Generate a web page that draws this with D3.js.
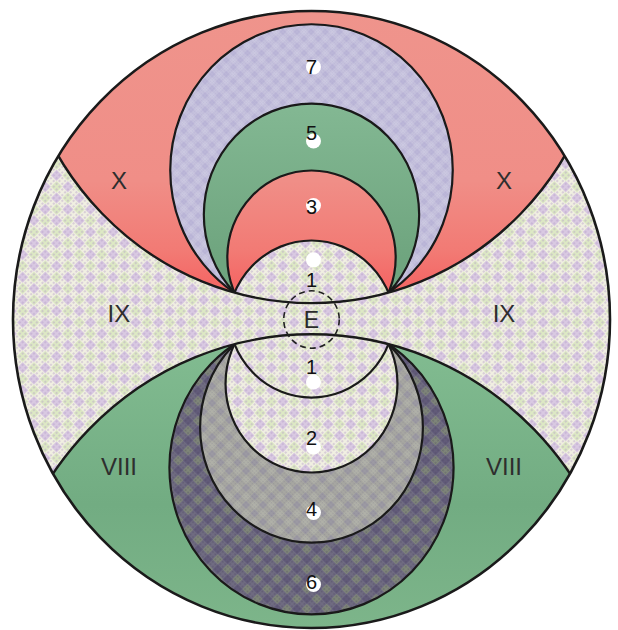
<!DOCTYPE html>
<html><head><meta charset="utf-8">
<script src="https://cdn.jsdelivr.net/npm/d3@7"></script>
<style>html,body{margin:0;padding:0;background:#fff;}svg{display:block;}</style>
</head><body>
<svg id="chart" width="618" height="630"></svg>
<script>
// ---- data (diagram units: outer radius = 10) ----
const outerRadius = 10;
const upperLabels = ["7", "5", "3", "1"];
const upperApex = [9.57, 7.0, 4.83, 2.56];
const lowerLabels = ["6", "4", "2", "1"];
const lowerApex = [9.56, 7.23, 4.96, 2.53];
const zoneLabels = ["X", "IX", "VIII"];
const convergenceX = 2.58;
const bandGap = [0.53, 0.48];        // upper, lower half-gap of IX band at centre
const bandJunction = [5.3, 5.0];     // height where band edge meets outer rim
const earthRadius = 0.93;
const earthLabel = "E";

// ---- scales ----
const svg = d3.select("#chart");
const x = d3.scaleLinear().domain([-10, 10]).range([13, 610]);
const y = d3.scaleLinear().domain([-10, 10]).range([628, 11]);
const rx = r => Math.abs(x(r) - x(0)), ry = r => Math.abs(y(0) - y(r));

const defs = svg.append("defs");
function checkPattern(id, base, c1, c2, size, dot, dotOp) {
  const p = defs.append("pattern").attr("id", id).attr("patternUnits", "userSpaceOnUse")
    .attr("width", size).attr("height", size).attr("patternTransform", "rotate(45)");
  p.append("rect").attr("width", size).attr("height", size).attr("fill", base);
  p.append("rect").attr("width", size / 2).attr("height", size / 2).attr("fill", c1);
  p.append("rect").attr("x", size / 2).attr("y", size / 2).attr("width", size / 2).attr("height", size / 2).attr("fill", c2);
  if (dot) {
    for (let i = 0; i < 4; i++) for (let j = 0; j < 4; j++)
      p.append("circle").attr("cx", i * size / 4 + size / 8).attr("cy", j * size / 4 + size / 8)
        .attr("r", size / 14).attr("fill", dot).attr("opacity", dotOp || 0.35);
  }
}
checkPattern("pIX", "#f1f0e2", "#d9c9e2", "#dde9c4", 16, "#b49dc6", 0.45);
checkPattern("pDark", "#706c82", "#7f8679", "#625b7a", 14, "#4a4560", 0.4);
checkPattern("pGrey", "#a7a7a1", "#9c9aa3", "#b0b1a8", 12, "#85838f", 0.4);
checkPattern("pLav", "#c6c2dd", "#bcb7d8", "#ccc9e1", 10, "#a59fcb", 0.35);
const g1 = defs.append("linearGradient").attr("id", "gRed").attr("gradientUnits", "userSpaceOnUse")
  .attr("x1", 0).attr("y1", y(10)).attr("x2", 0).attr("y2", y(0));
[[0, "#ef948c"], [0.55, "#f08e87"], [0.78, "#f27a74"], [0.88, "#f46866"], [1, "#f07a74"]]
  .forEach(s => g1.append("stop").attr("offset", s[0]).attr("stop-color", s[1]));
const g2 = defs.append("linearGradient").attr("id", "gGreen").attr("gradientUnits", "userSpaceOnUse")
  .attr("x1", 0).attr("y1", y(0)).attr("x2", 0).attr("y2", y(-10));
[[0, "#84be93"], [0.6, "#72ac82"], [1, "#7db58a"]]
  .forEach(s => g2.append("stop").attr("offset", s[0]).attr("stop-color", s[1]));
const g3 = defs.append("linearGradient").attr("id", "gGreen5").attr("gradientUnits", "userSpaceOnUse")
  .attr("x1", 0).attr("y1", y(7)).attr("x2", 0).attr("y2", y(2));
[[0, "#83b893"], [1, "#6fa57f"]]
  .forEach(s => g3.append("stop").attr("offset", s[0]).attr("stop-color", s[1]));

// band edge circles
function bandCircle(gap, hj, sign) {
  const xj2 = outerRadius * outerRadius - hj * hj;
  const d = hj - gap;
  const R = (xj2 + d * d) / (2 * d);
  return { cy: sign * (gap + R), r: R };
}
const upperBand = bandCircle(bandGap[0], bandJunction[0], 1);
const lowerBand = bandCircle(bandGap[1], bandJunction[1], -1);
function convHeight(gap, band) { return gap + band.r - Math.sqrt(band.r * band.r - convergenceX * convergenceX); }
const convUp = convHeight(bandGap[0], upperBand);
const convLow = convHeight(bandGap[1], lowerBand);
function shell(A, c) { const h = (A * A - c * c - convergenceX * convergenceX) / (2 * (A - c)); return { h, r: A - h }; }

function ell(sel, cxv, cyv, r) {
  return sel.append("ellipse").attr("cx", x(cxv)).attr("cy", y(cyv)).attr("rx", rx(r)).attr("ry", ry(r));
}
// clip paths
ell(defs.append("clipPath").attr("id", "cOuter"), 0, 0, outerRadius);
ell(defs.append("clipPath").attr("id", "cUp"), 0, upperBand.cy, upperBand.r);
ell(defs.append("clipPath").attr("id", "cLow"), 0, lowerBand.cy, lowerBand.r);

const stroke = "#1a1a1a";
ell(svg, 0, 0, outerRadius).attr("fill", "url(#pIX)");
const inner = svg.append("g").attr("clip-path", "url(#cOuter)");
ell(inner, 0, upperBand.cy, upperBand.r).attr("fill", "url(#gRed)");
ell(inner, 0, lowerBand.cy, lowerBand.r).attr("fill", "url(#gGreen)");

const upperFills = ["url(#pLav)", "url(#gGreen5)", "url(#gRed)", "url(#pIX)"];
const lowerFills = ["url(#pDark)", "url(#pGrey)", "url(#pIX)", "url(#pIX)"];
const up = inner.append("g").attr("clip-path", "url(#cUp)");
upperApex.forEach((A, i) => {
  const s = shell(A, convUp);
  ell(up, 0, s.h, s.r).attr("fill", upperFills[i]).attr("stroke", stroke).attr("stroke-width", 2.2);
});
const low = inner.append("g").attr("clip-path", "url(#cLow)");
lowerApex.forEach((A, i) => {
  const s = shell(A, convLow);
  ell(low, 0, -s.h, s.r).attr("fill", lowerFills[i]).attr("stroke", stroke).attr("stroke-width", 2.2);
});
ell(inner, 0, upperBand.cy, upperBand.r).attr("fill", "none").attr("stroke", stroke).attr("stroke-width", 2.4);
ell(inner, 0, lowerBand.cy, lowerBand.r).attr("fill", "none").attr("stroke", stroke).attr("stroke-width", 2.4);
ell(svg, 0, 0, outerRadius).attr("fill", "none").attr("stroke", stroke).attr("stroke-width", 2.6);

// Earth
ell(svg, 0, 0, earthRadius).attr("fill", "none").attr("stroke", "#222").attr("stroke-width", 1.6).attr("stroke-dasharray", "6,4");
svg.append("text").attr("x", x(0)).attr("y", y(0)).attr("text-anchor", "middle").attr("dominant-baseline", "central")
  .attr("font-family", "Liberation Sans, Arial, sans-serif").attr("font-size", 23).attr("fill", "#2a2a2a").text(earthLabel);

// zone labels
const zoneY = [4.49, 0.18, -4.78];
const zoneX = 6.45;
zoneLabels.forEach((t, i) => {
  [-1, 1].forEach(sd => {
    svg.append("text").attr("x", x(sd * zoneX)).attr("y", y(zoneY[i])).attr("text-anchor", "middle")
      .attr("dominant-baseline", "central").attr("font-family", "Liberation Sans, Arial, sans-serif")
      .attr("font-size", 24).attr("fill", "#2e2e2e").text(t);
  });
});

// shell labels
const upperDigitOff = [3, -4, 1, 8], upperDotOff = [3, 4, 0, -12];
const lowerDigitOff = [4, 1, 3, 1], lowerDotOff = [6, 5, 12, 16];
function shellLabels(labels, apex, inner0, digitOff, dotOff) {
  labels.forEach((t, i) => {
    const next = i < labels.length - 1 ? apex[i + 1] : inner0;
    const mid = (apex[i] + next) / 2;
    const yy = y(mid);
    svg.append("circle").attr("cx", x(0) + 2).attr("cy", yy + dotOff[i]).attr("r", 7.5).attr("fill", "#fff");
    svg.append("text").attr("x", x(0)).attr("y", yy + digitOff[i]).attr("text-anchor", "middle")
      .attr("dominant-baseline", "central").attr("font-family", "Liberation Sans, Arial, sans-serif")
      .attr("font-size", 20).attr("fill", "#111").text(t);
  });
}
shellLabels(upperLabels, upperApex, bandGap[0], upperDigitOff, upperDotOff);
shellLabels(lowerLabels, lowerApex.map(v => -v), -bandGap[1], lowerDigitOff, lowerDotOff);
</script>
</body></html>
